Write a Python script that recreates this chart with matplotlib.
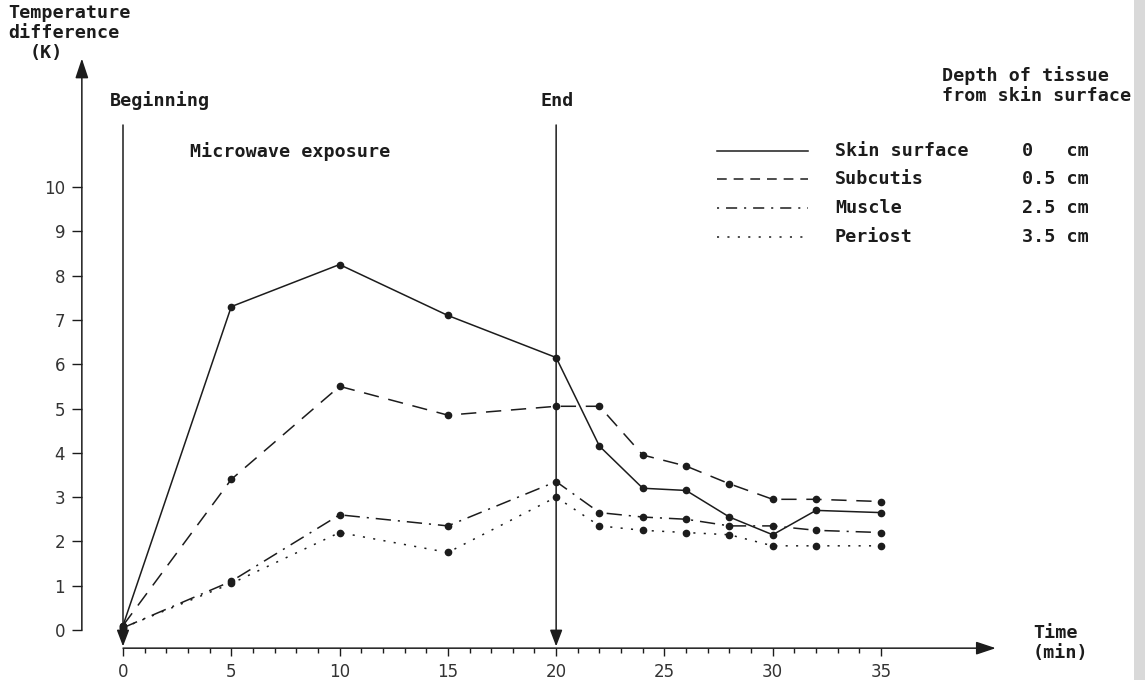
import matplotlib
matplotlib.use("Agg")
import matplotlib.pyplot as plt
from matplotlib.lines import Line2D
from matplotlib.patches import Rectangle

# values
time_min = [0, 5, 10, 15, 20, 22, 24, 26, 28, 30, 32, 35]
skin_surface = [0.1, 7.3, 8.25, 7.1, 6.15, 4.15, 3.2, 3.15, 2.55, 2.15, 2.7, 2.65]
subcutis = [0.1, 3.4, 5.5, 4.85, 5.05, 5.05, 3.95, 3.7, 3.3, 2.95, 2.95, 2.9]
muscle = [0.05, 1.1, 2.6, 2.35, 3.35, 2.65, 2.55, 2.5, 2.35, 2.35, 2.25, 2.2]
periost = [0.05, 1.05, 2.2, 1.75, 3.0, 2.35, 2.25, 2.2, 2.15, 1.9, 1.9, 1.9]

series_names = ["Skin surface", "Subcutis", "Muscle", "Periost"]
series_depths = ["0   cm", "0.5 cm", "2.5 cm", "3.5 cm"]

x_major_ticks = [0, 5, 10, 15, 20, 25, 30, 35]
x_minor_ticks = list(range(0, 36))
y_ticks = [0, 1, 2, 3, 4, 5, 6, 7, 8, 9, 10]
y_tick_labels = ["0", "1", "2", "3", "4", "5", "6", "7", "8", "9", "10"]

exposure_start = 0
exposure_end = 20

W, H = 1145, 680
INK = "#1c1c1c"
plt.rcParams["lines.scale_dashes"] = False

line_styles = ["-", (0, (11, 7)), (0, (11, 5, 1.5, 5)), (0, (1.5, 6))]
# the key uses shorter dashes than the curves
legend_styles = ["-", (0, (7, 5)), (0, (1.5, 5, 8, 5)), (0, (1.5, 6))]
all_series = [skin_surface, subcutis, muscle, periost]

mono = dict(family="DejaVu Sans Mono", fontweight="bold", fontsize=13.2, color=INK)


def fx(px):
    return px / W


def fy(py):
    return 1 - py / H


fig = plt.figure(figsize=(W / 100, H / 100), dpi=100)
fig.patch.set_facecolor("white")
ax = fig.add_axes([fx(123), 50 / H, (881 - 123) / W, (630 - 187) / H])
ax.set_xlim(0, 35)
ax.set_ylim(0, 10)
ax.patch.set_alpha(0)

# axis positions (data coords)
y_axis_x = -1.9
x_axis_y = -0.41
for side in ["top", "right", "left", "bottom"]:
    ax.spines[side].set_visible(False)
ax.spines["left"].set_position(("data", y_axis_x))
ax.spines["bottom"].set_position(("data", x_axis_y))

arrow_kw = dict(arrowstyle="-|>,head_length=1.2,head_width=0.4", mutation_scale=10,
                lw=1.1, color=INK, shrinkA=0, shrinkB=0)
ax.annotate("", xy=(y_axis_x, 12.9), xytext=(y_axis_x, 0), arrowprops=arrow_kw,
            annotation_clip=False)
ax.annotate("", xy=(40.3, x_axis_y), xytext=(0, x_axis_y), arrowprops=arrow_kw,
            annotation_clip=False)

# beginning / end of exposure markers
event_kw = dict(arrowstyle="-|>,head_length=1.0,head_width=0.38", mutation_scale=10,
                lw=1.1, color=INK, shrinkA=0, shrinkB=0)
for t in [exposure_start, exposure_end]:
    ax.annotate("", xy=(t, -0.37), xytext=(t, 11.4), arrowprops=event_kw,
                annotation_clip=False)

ax.set_xticks(x_major_ticks)
ax.set_xticks(x_minor_ticks, minor=True)
ax.set_xticklabels([str(v) for v in x_major_ticks])
ax.set_yticks(y_ticks)
ax.set_yticklabels(y_tick_labels)
ax.tick_params(axis="x", which="major", direction="out", length=5.5, width=1,
               color=INK, pad=5, labelsize=12, labelcolor="#333333")
ax.tick_params(axis="x", which="minor", direction="out", length=3.8, width=1, color=INK)
ax.tick_params(axis="y", which="major", direction="out", length=7, width=1,
               color=INK, pad=5, labelsize=12, labelcolor="#333333")

for values, ls in zip(all_series, line_styles):
    ax.plot(time_min, values, linestyle=ls, color=INK, lw=1.1, marker="o",
            markersize=4.5, markerfacecolor=INK, markeredgecolor=INK, clip_on=False)

# axis titles
fig.text(fx(8), fy(13), "Temperature", va="center", ha="left", **mono)
fig.text(fx(8), fy(33), "difference", va="center", ha="left", **mono)
fig.text(fx(30), fy(53), "(K)", va="center", ha="left", **mono)
fig.text(fx(1033), fy(633), "Time", va="center", ha="left", **mono)
fig.text(fx(1033), fy(653), "(min)", va="center", ha="left", **mono)

fig.text(fx(110), fy(101), "Beginning", va="center", ha="left", **mono)
fig.text(fx(540), fy(101), "End", va="center", ha="left", **mono)
fig.text(fx(190), fy(152), "Microwave exposure", va="center", ha="left", **mono)

# legend
fig.text(fx(942), fy(76), "Depth of tissue", va="center", ha="left", **mono)
fig.text(fx(942), fy(96), "from skin surface", va="center", ha="left", **mono)
legend_rows = [151, 179, 208, 237]
for name, depth, ls, row in zip(series_names, series_depths, legend_styles, legend_rows):
    fig.add_artist(Line2D([fx(717), fx(808)], [fy(row), fy(row)], linestyle=ls,
                          color=INK, lw=1.1))
    fig.text(fx(835), fy(row), name, va="center", ha="left", **mono)
    fig.text(fx(1022), fy(row), depth, va="center", ha="left", **mono)

# scanner edge shading
fig.add_artist(Rectangle((fx(1134), 0), fx(W) - fx(1134), 1, transform=fig.transFigure,
                         color="#d9d9d9", lw=0))

fig.savefig("out.png", dpi=100)
